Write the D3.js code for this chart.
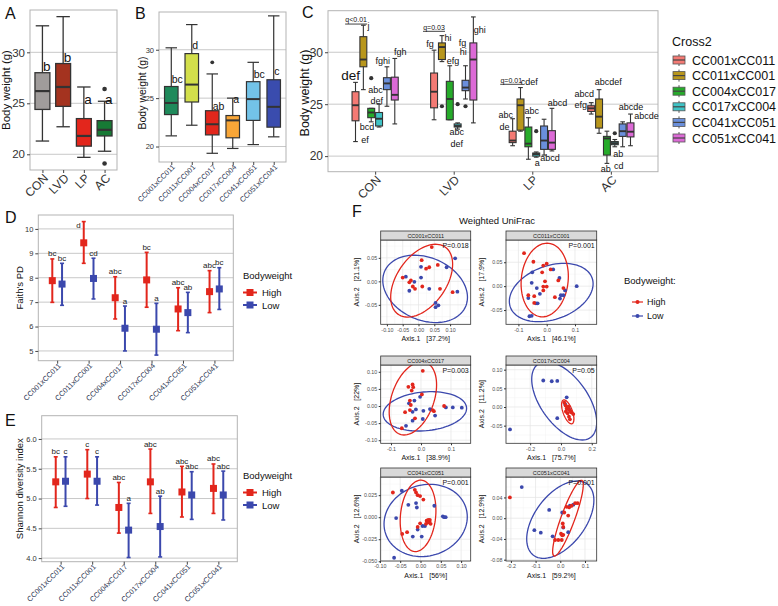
<!DOCTYPE html>
<html>
<head>
<meta charset="utf-8" />
<title>Body weight and gut microbiome</title>
<script src="https://d3js.org/d3.v7.min.js"></script>
<style>
  body { margin: 0; background: #fff; }
  svg text { font-family: "Liberation Sans", Arial, sans-serif; }
</style>
</head>
<body>
<script>
// ---------------- data ----------------
// A: body weight by diet  [min, q1, median, q3, max]
const dietGroups = ["CON", "LVD", "LP", "AC"];
const dietBox = [
  [21.3, 24.4, 26.2, 28.0, 32.6],
  [22.7, 24.7, 26.6, 28.9, 33.5],
  [19.7, 20.8, 21.8, 23.5, 26.6],
  [20.3, 21.8, 22.4, 23.3, 25.2]
];
const dietOutliers = [[], [], [], [26.4, 19.1]];
const dietLetters = ["b", "b", "a", "a"];
const dietLetterY = [28.6, 29.5, 25.4, 25.4];

// B: body weight by cross
const crosses = ["CC001xCC011", "CC011xCC001", "CC004xCC017", "CC017xCC004", "CC041xCC051", "CC051xCC041"];
const crossBox = [
  [21.1, 23.3, 24.5, 26.2, 30.2],
  [22.2, 24.6, 26.4, 29.6, 32.6],
  [19.3, 21.2, 22.3, 23.7, 27.5],
  [19.8, 20.9, 22.7, 23.2, 25.0],
  [20.2, 22.7, 24.9, 26.7, 28.7],
  [21.0, 22.0, 24.1, 26.9, 33.5]
];
const crossOutliers = [[], [], [28.7], [], [], []];
const crossLetters = ["bc", "d", "ab", "a", "bc", "c"];
const crossLetterY = [26.9, 30.5, 24.2, 24.9, 27.5, 27.8];

// C: body weight by diet x cross  cBox[diet][cross]
const cBox = [
  [[21.4, 23.4, 24.9, 26.2, 27.1], [26.4, 28.6, 29.3, 31.5, 32.6], [23.3, 23.7, 24.2, 24.6, 24.6],
   [22.8, 22.9, 23.6, 24.2, 25.0], [24.8, 26.4, 27.0, 27.55, 28.6], [23.1, 25.4, 25.9, 27.6, 29.4]],
  [[23.5, 24.65, 26.2, 28.0, 30.2], [29.1, 29.3, 30.5, 30.9, 31.6], [23.5, 23.5, 25.5, 27.2, 28.7],
   [22.6, 22.8, 22.9, 23.1, 23.2], [25.5, 26.3, 26.6, 27.3, 28.7], [23.2, 25.4, 29.3, 30.9, 33.4]],
  [[21.0, 21.3, 21.5, 22.4, 23.6], [22.4, 22.5, 24.9, 25.5, 26.6], [19.7, 20.9, 21.2, 22.8, 23.7],
   [19.9, 20.0, 20.2, 20.3, 20.4], [20.1, 20.65, 21.5, 22.9, 23.55], [20.5, 20.65, 21.3, 22.45, 24.6]],
  [[24.05, 24.3, 24.6, 24.85, 25.15], [22.2, 22.7, 23.8, 25.5, 26.4], [19.3, 20.1, 21.7, 21.9, 22.4],
   [20.9, 21.1, 21.25, 21.4, 21.6], [20.9, 21.9, 22.4, 23.1, 23.3], [21.0, 21.85, 22.35, 23.2, 24.05]]
];
const cOutliers = [
  [[], [], [27.5], [], [], []],
  [[], [24.8], [], [25.0], [24.8], []],
  [[], [], [], [22.4], [], []],
  [[], [], [], [22.2], [], []]
];
// letters in C: diet index, offset in category steps, value
const cNoteText = ["def", "j", "abc", "def", "bcd", "ef", "fghi", "fgh",
  "fg", "hi", "efg", "abc", "def", "fg", "hi", "ghi",
  "cdef", "abc", "de", "abc", "a", "abcd", "abcd",
  "abcd", "efg", "abcdef", "abcde", "abcde", "ab", "ab", "cd"];
const cNoteGroup = [0, 0, 0, 0, 0, 0, 0, 0, 1, 1, 1, 1, 1, 1, 1, 1, 2, 2, 2, 2, 2, 2, 2, 3, 3, 3, 3, 3, 3, 3, 3];
const cNoteDx = [-0.312, -0.086, 0.005, 0.02, -0.104, -0.128, 0.097, 0.321,
  -0.301, -0.073, -0.009, 0.038, 0.038, 0.112, 0.122, 0.331,
  -0.039, -0.338, -0.352, -0.008, 0.064, 0.32, 0.225,
  -0.34, -0.383, -0.033, 0.256, 0.455, 0.094, -0.066, 0.1];
const cNoteY = [27.8, 32.5, 26.4, 25.3, 22.8, 21.6, 29.2, 30.0,
  30.8, 31.35, 29.2, 22.3, 21.15, 30.95, 30.0, 32.15,
  27.15, 23.95, 22.8, 24.35, 19.35, 25.15, 19.87,
  25.95, 24.98, 27.15, 24.7, 23.85, 20.2, 18.8, 19.1];
const cQText = ["q<0.01", "q=0.03", "q=0.01"];
const cQGroup = [0, 1, 2];
const cQDx = [-0.242, -0.251, -0.268];
const cQY = [33.1, 32.4, 27.3];

// D: Faith's PD (mean and interval) by body weight group
const faithHigh = [7.88, 9.43, 7.18, 7.91, 6.72, 7.43];
const faithHighLo = [6.99, 8.59, 6.31, 6.79, 5.83, 6.57];
const faithHighHi = [8.77, 10.3, 8.04, 9.04, 7.59, 8.29];
const faithLow = [7.74, 7.97, 5.93, 5.89, 6.57, 7.54];
const faithLowLo = [6.87, 7.13, 5.0, 4.83, 5.75, 6.7];
const faithLowHi = [8.59, 8.8, 6.84, 6.95, 7.4, 8.41];
const faithLettersHigh = ["bc", "d", "abc", "bc", "abc", "abc"];
const faithLettersLow = ["bc", "cd", "a", "a", "ab", "bc"];

// E: Shannon diversity
const shanHigh = [5.28, 5.41, 4.85, 5.28, 5.11, 5.17];
const shanHighLo = [4.85, 5.0, 4.42, 4.75, 4.69, 4.75];
const shanHighHi = [5.7, 5.82, 5.27, 5.83, 5.54, 5.58];
const shanLow = [5.29, 5.29, 4.47, 4.53, 5.06, 5.06];
const shanLowLo = [4.87, 4.89, 4.01, 4.02, 4.65, 4.64];
const shanLowHi = [5.7, 5.7, 4.92, 5.04, 5.45, 5.46];
const shanLettersHigh = ["bc", "c", "abc", "abc", "abc", "abc"];
const shanLettersLow = ["c", "c", "a", "ab", "abc", "abc"];

// F: weighted UniFrac PCoA per cross
const fNames = ["CC001xCC011", "CC011xCC001", "CC004xCC017", "CC017xCC004", "CC041xCC051", "CC051xCC041"];
const fP = ["P=0.018", "P=0.001", "P=0.003", "P=0.05", "P=0.001", "P=0.001"];
const fAxis1 = ["37.2%", "46.1%", "38.9%", "75.7%", "56%", "59.2%"];
const fAxis2 = ["21.1%", "17.9%", "22%", "11.2%", "12.6%", "12.9%"];
const fXDom = [[-0.1196, 0.1652], [-0.1438, 0.1767], [-0.1343, 0.1657], [-0.357, 0.232], [-0.098, 0.1236], [-0.2198, 0.1474]];
const fYDom = [[-0.0914, 0.088], [-0.0798, 0.0965], [-0.109, 0.1199], [-0.0973, 0.1126], [-0.0497, 0.0456], [-0.0825, 0.0794]];
const fXTicks = [[-0.1, -0.05, 0, 0.05, 0.1], [-0.1, 0, 0.1], [-0.1, 0, 0.1], [-0.2, 0, 0.2], [-0.1, -0.05, 0, 0.05, 0.1], [-0.2, -0.1, 0, 0.1]];
const fYTicks = [[-0.05, 0, 0.05], [-0.05, 0, 0.05], [-0.1, -0.05, 0, 0.05, 0.1], [-0.05, 0, 0.05, 0.1], [-0.05, -0.025, 0, 0.025], [-0.08, -0.04, 0, 0.04]];
const fXFmt = [".2f", ".1f", ".1f", ".1f", ".2f", ".1f"];
const fYFmt = [".2f", ".2f", ".2f", ".2f", ".3f", ".2f"];
const fHighX = [
  [0.042, 0.010, 0.024, 0.034, 0.061, -0.050, -0.029, -0.024, -0.018, -0.011, 0.012, 0.068, 0.108],
  [-0.080, -0.047, -0.012, 0.000, 0.014, -0.016, 0.041, -0.006, 0.059, -0.012, 0.000, -0.012, -0.065, -0.044, 0.029, -0.044],
  [0.006, -0.042, -0.028, -0.026, -0.031, 0.003, -0.037, -0.034, -0.037, -0.053, -0.020, -0.064, 0.039, 0.043, 0.077],
  [0.022, 0.030, 0.037, 0.048, 0.054, 0.063, 0.069, 0.043, 0.052, 0.058, 0.032, 0.080],
  [-0.068, -0.014, -0.011, -0.007, -0.001, 0.007, -0.001, 0.015, 0.019, 0.022, 0.023, 0.018, 0.0135, 0.025, -0.007, -0.033, -0.045],
  [-0.204, 0.070, 0.060, 0.046, 0.036, 0.026, 0.016, 0.032, 0.010, 0.012, 0.003, 0.012, 0.008, -0.021, -0.008, 0.006]
];
const fHighY = [
  [0.073, 0.045, 0.027, 0.030, 0.035, 0.008, -0.002, 0.002, -0.011, -0.016, -0.011, -0.016, -0.023],
  [0.069, 0.051, 0.043, 0.047, 0.035, 0.029, 0.012, 0.010, -0.004, -0.001, -0.001, -0.009, -0.019, -0.021, -0.023, -0.035],
  [0.103, 0.056, 0.063, 0.055, 0.045, 0.034, 0.016, 0.003, -0.012, -0.018, -0.036, -0.065, -0.012, -0.015, 0.000],
  [0.012, 0.004, -0.004, 0.001, -0.008, -0.012, -0.015, -0.017, -0.026, -0.033, -0.012, -0.019],
  [0.028, 0.031, 0.028, 0.025, 0.024, 0.020, -0.007, -0.004, -0.003, -0.0045, -0.003, -0.006, -0.0075, -0.0075, -0.011, -0.017, -0.019],
  [0.040, 0.029, 0.029, 0.024, 0.021, 0.022, 0.011, 0.005, -0.010, -0.017, -0.030, -0.032, -0.033, -0.042, -0.042, -0.042]
];
const fLowX = [
  [0.116, 0.089, 0.008, 0.008, -0.040, -0.013, -0.029, 0.034, 0.123, 0.054, 0.063, 0.054],
  [0.023, -0.051, 0.045, -0.053, 0.106, -0.035, 0.065, -0.024, 0.059, 0.050, -0.065, 0.047, -0.038, -0.032, -0.061, -0.053],
  [-0.003, -0.022, -0.040, -0.017, -0.028, 0.008, 0.030, 0.083, 0.106, 0.136, 0.047, 0.006, -0.028, -0.050],
  [-0.115, -0.060, -0.024, 0.037, -0.024, -0.331, 0.028, 0.052],
  [-0.046, -0.030, -0.011, -0.009, 0.034, 0.055, 0.058, 0.062, -0.060, 0.005, 0.011, -0.007, -0.019, 0.003, -0.065],
  [-0.156, -0.045, 0.008, -0.105, -0.079, -0.031, 0.012, 0.032, 0.039, 0.053]
];
const fLowY = [
  [0.049, 0.030, 0.031, 0.008, 0.010, -0.001, -0.020, -0.016, -0.022, -0.046, -0.051, -0.055],
  [0.035, 0.029, 0.017, 0.007, 0.000, -0.004, -0.009, -0.016, -0.019, -0.019, -0.025, -0.026, -0.036, -0.036, -0.063, -0.062],
  [0.027, 0.016, 0.008, -0.010, -0.017, -0.014, -0.009, -0.004, -0.004, -0.005, -0.028, -0.038, -0.043, -0.058],
  [0.071, 0.069, 0.070, 0.026, -0.030, -0.060, 0.007, -0.006],
  [0.030, 0.014, 0.016, 0.011, 0.013, 0.001, 0.000, 0.000, -0.001, -0.010, -0.010, -0.014, -0.022, -0.022, -0.046],
  [0.060, 0.016, 0.011, -0.023, -0.028, -0.035, -0.018, -0.027, 0.024, 0.026]
];
// 95% ellipses: [cx, cy, half-width, half-height, correlation]
const fEllHigh = [[0.010, 0.0015, 0.098, 0.0775, 0.45], [-0.007, 0.0128, 0.0835, 0.077, 0.1], [-0.027, 0.0223, 0.079, 0.107, 0.37],
  [0.044, -0.013, 0.040, 0.032, -0.6], [-0.006, 0.0015, 0.044, 0.0405, 0.15], [0.031, 0.0, 0.062, 0.073, 0.88]];
const fEllLow = [[0.021, -0.016, 0.134, 0.0717, -0.25], [0.016, -0.0134, 0.148, 0.061, 0.3], [0.013, -0.0156, 0.139, 0.0575, 0.15],
  [0.021, 0.0165, 0.211, 0.105, -0.55], [0.0127, -0.0037, 0.1025, 0.041, 0.1], [0.0, -0.0028, 0.136, 0.0746, 0.5]];

// ---------------- styles ----------------
const dietColors = ["#a09c9b", "#a4331f", "#e3261c", "#177a35"];
const crossColorsB = ["#1f8a5b", "#d3df4b", "#e2271c", "#f8a638", "#73c3e8", "#3a4cae"];
const crossColorsC = ["#f47a74", "#b8961c", "#26ab2a", "#3fc3c6", "#6a8fdb", "#dc6ad6"];
const RED = "#e2261c", BLUE = "#3b48ad";
const minus = f => v => d3.format(f)(v).replace("\u2212", "-");

const svg = d3.select("body").append("svg").attr("width", 778).attr("height", 606);

function hgrid(g, x0, x1, y, ticks) {
  g.append("g").selectAll("line").data(ticks).join("line")
    .attr("x1", x0).attr("x2", x1).attr("y1", d => y(d)).attr("y2", d => y(d))
    .attr("stroke", "#c8c8c8").attr("stroke-width", 1);
}
function border(g, x0, x1, y0, y1) {
  g.append("rect").attr("x", x0).attr("y", y0).attr("width", x1 - x0).attr("height", y1 - y0)
    .attr("fill", "none").attr("stroke", "#b3b3b3").attr("stroke-width", 1);
}
function yAxis(g, x0, y, ticks, size, fmt) {
  const ax = g.append("g").attr("transform", `translate(${x0},0)`)
    .call(d3.axisLeft(y).tickValues(ticks).tickSize(3).tickPadding(2).tickFormat(fmt || d3.format("d")));
  ax.select(".domain").remove();
  ax.selectAll("line").attr("stroke", "#444");
  ax.selectAll("text").attr("font-size", size).attr("fill", "#333");
}
function xRot(g, y1, x, size, dx, dy, col) {
  const ax = g.append("g").attr("transform", `translate(0,${y1})`)
    .call(d3.axisBottom(x).tickSize(3).tickPadding(2));
  ax.select(".domain").remove();
  ax.selectAll("line").attr("stroke", "#444");
  ax.selectAll("text").attr("font-size", size).attr("fill", col || "#333")
    .attr("text-anchor", "end").attr("y", 0).attr("dy", "0.7em")
    .attr("transform", `translate(${dx},${dy}) rotate(-45)`);
}
function yTitle(x, y, t, size) {
  svg.append("text").attr("transform", `translate(${x},${y}) rotate(-90)`)
    .attr("text-anchor", "middle").attr("font-size", size).attr("fill", "#111").text(t);
}
function drawBox(g, cx, s, y, bw, cw, fill, lw, mw) {
  const c = "#333", b = g.append("g");
  b.append("line").attr("x1", cx).attr("x2", cx).attr("y1", y(s[0])).attr("y2", y(s[4]))
    .attr("stroke", c).attr("stroke-width", lw);
  [s[0], s[4]].forEach(v => b.append("line").attr("x1", cx - cw / 2).attr("x2", cx + cw / 2)
    .attr("y1", y(v)).attr("y2", y(v)).attr("stroke", c).attr("stroke-width", lw));
  b.append("rect").attr("x", cx - bw / 2).attr("y", y(s[3])).attr("width", bw)
    .attr("height", Math.max(0.6, y(s[1]) - y(s[3]))).attr("fill", fill).attr("stroke", c).attr("stroke-width", lw);
  b.append("line").attr("x1", cx - bw / 2).attr("x2", cx + bw / 2).attr("y1", y(s[2])).attr("y2", y(s[2]))
    .attr("stroke", c).attr("stroke-width", mw);
}
function dots(g, cx, vals, y, r) {
  vals.forEach(v => g.append("circle").attr("cx", cx).attr("cy", y(v)).attr("r", r).attr("fill", "#333"));
}
function panelLetter(t, x, y) {
  svg.append("text").attr("x", x).attr("y", y).attr("font-size", 16).attr("fill", "#111").text(t);
}

// ---------------- A ----------------
{
  const g = svg.append("g");
  const x = d3.scalePoint().domain(dietGroups).range([30, 117]).padding(0.6);
  const y = d3.scaleLinear().domain([18.46, 34.15]).range([170, 10]);
  hgrid(g, 30, 117, y, [20, 25, 30]);
  border(g, 30, 117, 10, 170);
  const bw = 0.72 * x.step();
  dietBox.forEach((s, i) => drawBox(g, x(dietGroups[i]), s, y, bw, bw * 0.9, dietColors[i], 1.3, 2.2));
  dietOutliers.forEach((o, i) => dots(g, x(dietGroups[i]), o, y, 2.3));
  g.selectAll(".lt").data(dietLetters).join("text")
    .attr("x", (d, i) => x(dietGroups[i]) + 0.5).attr("y", (d, i) => y(dietLetterY[i])).attr("dy", "0.35em")
    .attr("font-size", 13.5).attr("fill", "#111").text(d => d);
  yAxis(g, 30, y, [20, 25, 30], 11.5);
  xRot(g, 170, x, 12, 0, 3);
  yTitle(10, 90, "Body weight (g)", 11.5);
  panelLetter("A", 5, 19);
}

// ---------------- B ----------------
{
  const g = svg.append("g");
  const x = d3.scalePoint().domain(crosses).range([159, 286]).padding(0.6);
  const y = d3.scaleLinear().domain([18.4, 33.9]).range([162, 12]);
  hgrid(g, 159, 286, y, [20, 25, 30]);
  border(g, 159, 286, 12, 162);
  const bw = 0.66 * x.step();
  crossBox.forEach((s, i) => drawBox(g, x(crosses[i]), s, y, bw, bw * 0.85, crossColorsB[i], 1.2, 2));
  crossOutliers.forEach((o, i) => dots(g, x(crosses[i]), o, y, 1.9));
  g.selectAll(".lt").data(crossLetters).join("text")
    .attr("x", (d, i) => x(crosses[i]) + 0.5).attr("y", (d, i) => y(crossLetterY[i])).attr("dy", "0.35em")
    .attr("font-size", 10.5).attr("fill", "#111").text(d => d);
  yAxis(g, 159, y, [20, 25, 30], 7.5);
  xRot(g, 162, x, 7.4, 0, 2, "#2a3350");
  yTitle(146, 93, "Body weight (g)", 10.5);
  panelLetter("B", 135, 19);
}

// ---------------- C ----------------
{
  const g = svg.append("g");
  const cGroups = dietGroups;
  const x = d3.scalePoint().domain(cGroups).range([328, 658]).padding(0.6);
  const y = d3.scaleLinear().domain([18.5, 34.0]).range([171.7, 10.7]);
  hgrid(g, 328, 658, y, [20, 25, 30]);
  border(g, 328, 658, 10.7, 171.7);
  const slot = 0.1 * x.step();
  cBox.forEach((row, gi) => row.forEach((s, si) => {
    const cx = x(cGroups[gi]) + (si - 2.5) * slot;
    drawBox(g, cx, s, y, slot * 0.88, slot * 0.6, crossColorsC[si], 1.1, 1.9);
    dots(g, cx, cOutliers[gi][si], y, 2.1);
  }));
  g.selectAll(".nt").data(cNoteText).join("text")
    .attr("x", (d, i) => x(cGroups[cNoteGroup[i]]) + cNoteDx[i] * x.step())
    .attr("y", (d, i) => y(cNoteY[i])).attr("dy", "0.35em").attr("text-anchor", "middle")
    .attr("font-size", (d, i) => i === 0 ? 13.5 : 9).attr("fill", "#111").text(d => d);
  cQText.forEach((t, i) => {
    const qx = x(cGroups[cQGroup[i]]) + cQDx[i] * x.step(), qy = y(cQY[i]);
    g.append("text").attr("x", qx).attr("y", qy).attr("dy", "0.35em").attr("text-anchor", "middle")
      .attr("font-size", 7).attr("fill", "#111").text(t);
    g.append("line").attr("x1", qx - 11).attr("x2", qx + 11).attr("y1", qy + 4).attr("y2", qy + 4)
      .attr("stroke", "#111").attr("stroke-width", 0.8);
  });
  yAxis(g, 328, y, [20, 25, 30], 12);
  xRot(g, 171.7, x, 12, 0, 3);
  yTitle(309, 93, "Body weight (g)", 12.5);
  panelLetter("C", 302, 18);

  // legend
  const lg = svg.append("g");
  lg.append("text").attr("x", 672).attr("y", 46).attr("font-size", 12.5).attr("fill", "#111").text("Cross2");
  crosses.forEach((c, i) => {
    const cy = 60 + i * 15.6;
    lg.append("line").attr("x1", 679).attr("x2", 679).attr("y1", cy - 6).attr("y2", cy + 6).attr("stroke", "#555");
    lg.append("rect").attr("x", 673).attr("y", cy - 4).attr("width", 12).attr("height", 8)
      .attr("fill", crossColorsC[i]).attr("stroke", "#555").attr("stroke-width", 0.8);
    lg.append("line").attr("x1", 673).attr("x2", 685).attr("y1", cy).attr("y2", cy).attr("stroke", "#444").attr("stroke-width", 1.2);
    lg.append("text").attr("x", 692).attr("y", cy + 4.5).attr("font-size", 12.5).attr("fill", "#111").text(c);
  });
}

// ---------------- D and E ----------------
function rangePanel(o) {
  const g = svg.append("g");
  const x = d3.scalePoint().domain(crosses).range([o.x0, o.x1]).padding(0.6);
  const y = d3.scaleLinear().domain(o.dom).range([o.y1, o.y0]);
  hgrid(g, o.x0, o.x1, y, o.ticks);
  border(g, o.x0, o.x1, o.y0, o.y1);
  const dodge = 0.155 * x.step();
  [[o.hi, o.hiLo, o.hiHi, RED, o.hiLet, -1], [o.lo, o.loLo, o.loHi, BLUE, o.loLet, 1]].forEach(([m, lo, hi, col, lets, sgn]) => {
    m.forEach((v, i) => {
      const cx = x(crosses[i]) + sgn * dodge;
      g.append("line").attr("x1", cx).attr("x2", cx).attr("y1", y(lo[i])).attr("y2", y(hi[i]))
        .attr("stroke", col).attr("stroke-width", 2);
      [lo[i], hi[i]].forEach(w => g.append("line").attr("x1", cx - 2).attr("x2", cx + 2)
        .attr("y1", y(w)).attr("y2", y(w)).attr("stroke", col).attr("stroke-width", 1.6));
      g.append("rect").attr("x", cx - 3.5).attr("y", y(v) - 3.5).attr("width", 7).attr("height", 7).attr("fill", col);
      // keep the letter inside the panel: if it would rise above the top, set it beside the bar
      const above = y(hi[i]) - 2.5 > o.y0 + 6;
      g.append("text").attr("x", above ? cx : cx - 3).attr("y", above ? y(hi[i]) - 2.5 : y(hi[i]) + 6)
        .attr("text-anchor", above ? "middle" : "end")
        .attr("font-size", 8).attr("fill", "#222").text(lets[i]);
    });
  });
  yAxis(g, o.x0, y, o.ticks, 7.5, o.fmt);
  xRot(g, o.y1, x, 7.4, 0, 2, "#2a3350");
  yTitle(23, (o.y0 + o.y1) / 2, o.title, 9.5);
  // legend
  const lg = svg.append("g");
  lg.append("text").attr("x", 243).attr("y", o.ly).attr("font-size", 9.5).attr("fill", "#111").text("Bodyweight");
  [["High", RED], ["Low", BLUE]].forEach(([t, c], i) => {
    const cy = o.ly + 13.5 + i * 12.5;
    lg.append("line").attr("x1", 243).attr("x2", 257).attr("y1", cy).attr("y2", cy).attr("stroke", c).attr("stroke-width", 2);
    lg.append("rect").attr("x", 246.5).attr("y", cy - 3.5).attr("width", 7).attr("height", 7).attr("fill", c);
    lg.append("text").attr("x", 262).attr("y", cy + 3.5).attr("font-size", 9.5).attr("fill", "#111").text(t);
  });
}
rangePanel({
  x0: 38.3, x1: 233.3, y0: 215, y1: 360.7, dom: [4.6, 10.57], ticks: [5, 6, 7, 8, 9, 10], fmt: d3.format("d"),
  hi: faithHigh, hiLo: faithHighLo, hiHi: faithHighHi, hiLet: faithLettersHigh,
  lo: faithLow, loLo: faithLowLo, loHi: faithLowHi, loLet: faithLettersLow,
  title: "Faith's PD", ly: 279
});
rangePanel({
  x0: 41.7, x1: 237.3, y0: 415.7, y1: 561.7, dom: [3.94, 6.39], ticks: [4, 4.5, 5, 5.5, 6], fmt: d3.format(".1f"),
  hi: shanHigh, hiLo: shanHighLo, hiHi: shanHighHi, hiLet: shanLettersHigh,
  lo: shanLow, loLo: shanLowLo, loHi: shanLowHi, loLet: shanLettersLow,
  title: "Shannon diversity index", ly: 479
});
panelLetter("D", 5, 223);
panelLetter("E", 5, 426);

// ---------------- F ----------------
panelLetter("F", 352, 217);
svg.append("text").attr("x", 497).attr("y", 224).attr("text-anchor", "middle").attr("font-size", 9.5)
  .attr("fill", "#111").text("Weighted UniFrac");
const fCols = [[380.7, 470.7], [506, 596.7]];
const fRows = [[240, 324.3], [365, 443.3], [477, 561]];
const defs = svg.append("defs");
function ellipsePts(e) {
  const [cx, cy, rx, ry, rho] = e, phi = Math.acos(rho);
  return d3.range(90).map(k => {
    const t = 2 * Math.PI * k / 90;
    return [cx + rx * Math.cos(t), cy + ry * Math.cos(t - phi)];
  });
}
function minorOf(ticks, dom) {
  const st = ticks[1] - ticks[0];
  const m = ticks.map(v => v - st / 2).concat([ticks[ticks.length - 1] + st / 2]);
  return m.filter(v => v > dom[0] && v < dom[1]);
}
fNames.forEach((name, k) => {
  const [px0, px1] = fCols[k % 2], [py0, py1] = fRows[Math.floor(k / 2)];
  const x = d3.scaleLinear().domain(fXDom[k]).range([px0, px1]);
  const y = d3.scaleLinear().domain(fYDom[k]).range([py1, py0]);
  const g = svg.append("g");
  defs.append("clipPath").attr("id", "fc" + k).append("rect")
    .attr("x", px0).attr("y", py0).attr("width", px1 - px0).attr("height", py1 - py0);
  g.append("rect").attr("x", px0).attr("y", py0).attr("width", px1 - px0).attr("height", py1 - py0).attr("fill", "#fff");
  const grid = g.append("g");
  minorOf(fXTicks[k], fXDom[k]).forEach(v => grid.append("line").attr("x1", x(v)).attr("x2", x(v)).attr("y1", py0).attr("y2", py1)
    .attr("stroke", "#f2f2f2").attr("stroke-width", 0.5));
  minorOf(fYTicks[k], fYDom[k]).forEach(v => grid.append("line").attr("y1", y(v)).attr("y2", y(v)).attr("x1", px0).attr("x2", px1)
    .attr("stroke", "#f2f2f2").attr("stroke-width", 0.5));
  fXTicks[k].forEach(v => grid.append("line").attr("x1", x(v)).attr("x2", x(v)).attr("y1", py0).attr("y2", py1)
    .attr("stroke", "#e4e4e4").attr("stroke-width", 0.7));
  fYTicks[k].forEach(v => grid.append("line").attr("y1", y(v)).attr("y2", y(v)).attr("x1", px0).attr("x2", px1)
    .attr("stroke", "#e4e4e4").attr("stroke-width", 0.7));

  const body = g.append("g").attr("clip-path", `url(#fc${k})`);
  const line = d3.line().x(d => x(d[0])).y(d => y(d[1])).curve(d3.curveLinearClosed);
  body.append("path").attr("d", line(ellipsePts(fEllLow[k]))).attr("fill", "none").attr("stroke", BLUE).attr("stroke-width", 1.3);
  body.append("path").attr("d", line(ellipsePts(fEllHigh[k]))).attr("fill", "none").attr("stroke", RED).attr("stroke-width", 1.3);
  body.selectAll(".lo").data(fLowX[k]).join("circle").attr("cx", d => x(d)).attr("cy", (d, i) => y(fLowY[k][i]))
    .attr("r", 1.9).attr("fill", BLUE);
  body.selectAll(".hi").data(fHighX[k]).join("circle").attr("cx", d => x(d)).attr("cy", (d, i) => y(fHighY[k][i]))
    .attr("r", 1.9).attr("fill", RED);

  g.append("text").attr("x", px1 - 2).attr("y", py0 + 8).attr("text-anchor", "end").attr("font-size", 7)
    .attr("fill", "#111").text(fP[k]);
  g.append("rect").attr("x", px0).attr("y", py0).attr("width", px1 - px0).attr("height", py1 - py0)
    .attr("fill", "none").attr("stroke", "#333").attr("stroke-width", 0.8);
  g.append("rect").attr("x", px0).attr("y", py0 - 9).attr("width", px1 - px0).attr("height", 9)
    .attr("fill", "#d9d9d9").attr("stroke", "#333").attr("stroke-width", 0.8);
  g.append("text").attr("x", (px0 + px1) / 2).attr("y", py0 - 2.5).attr("text-anchor", "middle")
    .attr("font-size", 5.5).attr("fill", "#1a1a1a").text(name);

  const ax = g.append("g").attr("transform", `translate(0,${py1})`)
    .call(d3.axisBottom(x).tickValues(fXTicks[k]).tickSize(2).tickPadding(1.5).tickFormat(minus(fXFmt[k])));
  const ay = g.append("g").attr("transform", `translate(${px0},0)`)
    .call(d3.axisLeft(y).tickValues(fYTicks[k]).tickSize(2).tickPadding(1.5).tickFormat(minus(fYFmt[k])));
  [ax, ay].forEach(a => {
    a.select(".domain").remove();
    a.selectAll("line").attr("stroke", "#333");
    a.selectAll("text").attr("font-size", 5.3).attr("fill", "#4d4d4d");
  });
  g.append("text").attr("x", (px0 + px1) / 2).attr("y", py1 + 17).attr("text-anchor", "middle")
    .attr("font-size", 7).attr("fill", "#111").text("Axis.1\u00a0\u00a0\u00a0[" + fAxis1[k] + "]");
  g.append("text").attr("transform", `translate(${px0 - 22},${(py0 + py1) / 2}) rotate(-90)`).attr("text-anchor", "middle")
    .attr("font-size", 7).attr("fill", "#111").text("Axis.2\u00a0\u00a0\u00a0[" + fAxis2[k] + "]");
});

// F legend
{
  const lg = svg.append("g");
  lg.append("text").attr("x", 624).attr("y", 284).attr("font-size", 9.5).attr("fill", "#111").text("Bodyweight:");
  [["High", RED], ["Low", BLUE]].forEach(([t, c], i) => {
    const cy = 302 + i * 14;
    lg.append("line").attr("x1", 632).attr("x2", 643).attr("y1", cy).attr("y2", cy).attr("stroke", c).attr("stroke-width", 1.2);
    lg.append("circle").attr("cx", 637.5).attr("cy", cy).attr("r", 2).attr("fill", c);
    lg.append("text").attr("x", 647).attr("y", cy + 3.2).attr("font-size", 9).attr("fill", "#111").text(t);
  });
}
</script>
</body>
</html>
